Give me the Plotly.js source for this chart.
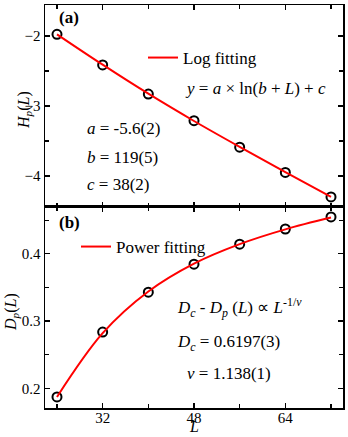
<!DOCTYPE html>
<html><head><meta charset="utf-8">
<script src="https://cdn.plot.ly/plotly-3.0.1.min.js"></script>
<style>html,body{margin:0;padding:0;background:#fff}#g{width:348px;height:437px}</style>
</head><body><div id="g"></div>
<script>
const L = [24, 32, 40, 48, 56, 64, 72];
const Hp = [-1.976, -2.414, -2.83, -3.21, -3.59, -3.95, -4.30];
const Dp = [0.1871, 0.2836, 0.343, 0.3847, 0.4144, 0.437, 0.455];
const fitL = [24, 32, 40, 48, 56, 64, 72];
const fitH = [-1.976, -2.41, -2.825, -3.215, -3.585, -3.945, -4.30];
const fitD = [0.1871, 0.282, 0.344, 0.3855, 0.4145, 0.4365, 0.454];
const xTickVals = [32, 48, 64];

const F = 'Liberation Serif';
const px = x => (x - 45) / 298, py = y => (408 - y) / 403;

const mk = {symbol: 'circle-open', size: 9, color: 'black', line: {width: 2, color: 'black'}};
const traces = [
  {x: L, y: Hp, xaxis: 'x2', yaxis: 'y2', mode: 'markers', marker: mk, showlegend: false},
  {x: fitL, y: fitH, xaxis: 'x2', yaxis: 'y2', mode: 'lines', name: 'Log fitting',
   line: {color: 'red', width: 2, shape: 'spline'}, legend: 'legend'},
  {x: L, y: Dp, mode: 'markers', marker: mk, showlegend: false},
  {x: fitL, y: fitD, mode: 'lines', name: 'Power fitting',
   line: {color: 'red', width: 2, shape: 'spline'}, legend: 'legend2'}
];
const axBase = {showline: true, linecolor: 'black', linewidth: 1.5, mirror: 'ticks',
  ticks: 'inside', ticklen: 5, tickwidth: 1.2, tickcolor: 'black', showgrid: false, zeroline: false,
  tickfont: {family: F, size: 15, color: 'black'}};
const xr = [21.9, 74.1];
const layout = {
  width: 348, height: 437, margin: {l: 45, r: 5, t: 5, b: 29},
  paper_bgcolor: 'white', plot_bgcolor: 'white', font: {family: F, color: 'black'},
  xaxis: Object.assign({}, axBase, {range: xr, domain: [0, 1], anchor: 'y', tickvals: xTickVals,
    ticklabelstandoff: -5,
    minor: {tickvals: [24, 40, 56, 72], ticks: 'inside', ticklen: 4, tickcolor: 'black'}}),
  yaxis: Object.assign({}, axBase, {range: [0.1707, 0.4699], domain: [0, 0.499], anchor: 'x', dtick: 0.1, tick0: 0,
    minor: {dtick: 0.05, ticks: 'inside', ticklen: 4, tickcolor: 'black'}}),
  xaxis2: Object.assign({}, axBase, {range: xr, domain: [0, 1], anchor: 'y2', tickvals: xTickVals, showticklabels: false,
    minor: {tickvals: [24, 40, 56, 72], ticks: 'inside', ticklen: 4, tickcolor: 'black'}}),
  yaxis2: Object.assign({}, axBase, {range: [-4.443, -1.557], domain: [0.499, 1], anchor: 'x2', dtick: 1, tick0: 0,
    minor: {dtick: 0.5, ticks: 'inside', ticklen: 4, tickcolor: 'black'}}),
  legend: {x: px(143), y: py(58), xanchor: 'left', yanchor: 'middle', bgcolor: 'rgba(0,0,0,0)',
    font: {family: F, size: 17, color: 'black'}},
  legend2: {x: px(76), y: py(247), xanchor: 'left', yanchor: 'middle', bgcolor: 'rgba(0,0,0,0)',
    font: {family: F, size: 17, color: 'black'}},
  annotations: [
    {text: '<b>(a)</b>', x: px(57), y: py(18)},
    {text: '<i>y</i> = <i>a</i> × ln(<i>b</i> + <i>L</i>) + <i>c</i>', x: px(183), y: py(89)},
    {text: '<i>a</i> = -5.6(2)', x: px(85), y: py(128)},
    {text: '<i>b</i> = 119(5)', x: px(85), y: py(157)},
    {text: '<i>c</i> = 38(2)', x: px(85), y: py(184)},
    {text: '<b>(b)</b>', x: px(57), y: py(222)},
    {text: '<i>D<sub>c</sub></i> - <i>D<sub>p</sub></i> (<i>L</i>) ∝ <i>L</i><sup>-1/<i>ν</i></sup>', x: px(175), y: py(307)},
    {text: '<i>D<sub>c</sub></i> = 0.6197(3)', x: px(175), y: py(343)},
    {text: '<i>ν</i> = 1.138(1)', x: px(185), y: py(373)},
    {text: '<i>L</i>', x: 0.5, y: py(437), xanchor: 'center', yanchor: 'bottom', font: {family: F, size: 16, color: 'black'}},
    {text: '<i>H<sub>p</sub></i>(<i>L</i>)', x: px(24), y: py(110), xanchor: 'center', textangle: -90,
     font: {family: F, size: 16, color: 'black'}},
    {text: '<i>D<sub>p</sub></i>(<i>L</i>)', x: px(11), y: py(312), xanchor: 'center', textangle: -90,
     font: {family: F, size: 16, color: 'black'}}
  ].map(a => Object.assign({xref: 'paper', yref: 'paper', xanchor: 'left', yanchor: 'middle', showarrow: false,
    font: {family: F, size: 17, color: 'black'}}, a))
};
Plotly.newPlot('g', traces, layout, {displayModeBar: false, staticPlot: true});
</script></body></html>
